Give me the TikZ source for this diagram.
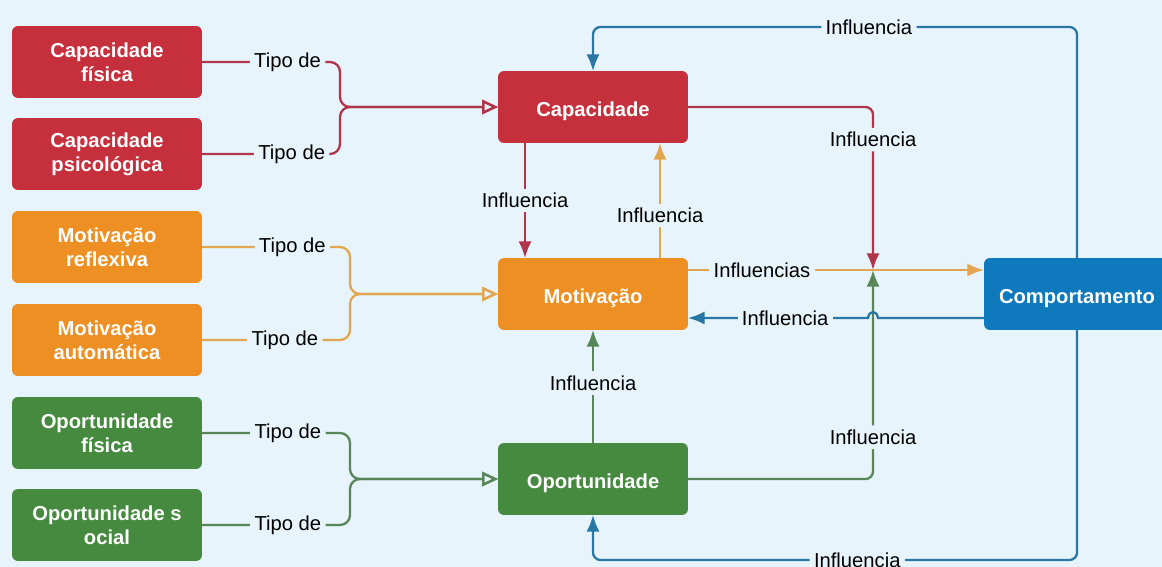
\documentclass[tikz,border=0pt]{standalone}
\usepackage{fontspec}
\setmainfont{Liberation Sans}
\usepackage{xcolor}
\usetikzlibrary{arrows,arrows.meta,positioning,calc}

\definecolor{bgblue}{RGB}{231,244,251}
\definecolor{capred}{RGB}{198,47,60}
\definecolor{motorange}{RGB}{238,143,36}
\definecolor{opgreen}{RGB}{70,138,64}
\definecolor{compblue}{RGB}{14,121,188}
\definecolor{redline}{RGB}{176,52,74}
\definecolor{orangeline}{RGB}{226,166,80}
\definecolor{greenline}{RGB}{88,134,88}
\definecolor{blueline}{RGB}{40,120,166}

\begin{document}
\begin{tikzpicture}[x=0.02cm,y=-0.02cm,every node/.style={outer sep=0pt}]
\tikzstyle{box}=[rounded corners=0.12cm,minimum width=3.8cm,minimum height=1.44cm,
text=white,align=center,inner sep=2pt,font=\fontsize{11.5}{13.5}\selectfont\bfseries]
\tikzstyle{mainbox}=[box,text height=10.6pt,text depth=0pt]
\tikzstyle{lbl}=[fill=bgblue,inner sep=2.5pt,text=black,font=\fontsize{11.5}{13}\selectfont]
\tikzstyle{tipo}=[line width=1.3pt,rounded corners=0.2cm,-{Triangle[open,length=9pt,width=8pt]}]
\tikzstyle{infl}=[line width=1.3pt,-{Latex[length=9.5pt,width=7.5pt]}]
\fill[bgblue] (0,0) rectangle (1162,567);
\useasboundingbox (0,0) rectangle (1162,567);

% sources
\node (capfis) [box,fill=capred] at (107,62) {Capacidade\\física};
\node (cappsi) [box,fill=capred] at (107,154) {Capacidade\\psicológica};
\node (motref) [box,fill=motorange] at (107,247) {Motivação\\reflexiva};
\node (motaut) [box,fill=motorange] at (107,340) {Motivação\\automática};
\node (opfis) [box,fill=opgreen] at (107,433) {Oportunidade\\física};
\node (opsoc) [box,fill=opgreen] at (107,525) {Oportunidade s\\ocial};

% main components
\node (cap) [mainbox,fill=capred] at (593,107) {Capacidade};
\node (mot) [mainbox,fill=motorange] at (593,294) {Motivação};
\node (opo) [mainbox,fill=opgreen] at (593,479) {Oportunidade};
\node (comp) [mainbox,fill=compblue,minimum width=3.72cm] at (1077,294) {Comportamento};

\coordinate (capj) at (340,107);
\coordinate (motj) at (350,294);
\coordinate (opoj) at (350,479);
\coordinate (cross) at (873,270);
\coordinate (hop) at (873,318);
\coordinate (top) at (593,27);
\coordinate (bot) at (593,560);

% tipo de
\draw [tipo,redline] (capfis.east) -- node[lbl,pos=.62]{Tipo de} (capfis.east -| capj) -- (capj) -- (cap.west);
\draw [tipo,redline] (cappsi.east) -- node[lbl,pos=.65]{Tipo de} (cappsi.east -| capj) -- (capj) -- (cap.west);
\draw [tipo,orangeline] (motref.east) -- node[lbl,pos=.61]{Tipo de} (motref.east -| motj) -- (motj) -- (mot.west);
\draw [tipo,orangeline] (motaut.east) -- node[lbl,pos=.56]{Tipo de} (motaut.east -| motj) -- (motj) -- (mot.west);
\draw [tipo,greenline] (opfis.east) -- node[lbl,pos=.58]{Tipo de} (opfis.east -| opoj) -- (opoj) -- (opo.west);
\draw [tipo,greenline] (opsoc.east) -- node[lbl,pos=.58]{Tipo de} (opsoc.east -| opoj) -- (opoj) -- (opo.west);

% influences
\draw [infl,redline] ($(cap.south)+(-68,0)$) -- node[lbl]{Influencia} ($(mot.north)+(-68,0)$);
\draw [infl,orangeline] ($(mot.north)+(67,0)$) -- node[lbl,pos=.37]{Influencia} ($(cap.south)+(67,0)$);
\draw [infl,greenline] (opo.north) -- node[lbl,pos=.53]{Influencia} (mot.south);
\draw [infl,orangeline] (mot.east |- cross) -- node[lbl,pos=.25]{Influencias} (comp.west |- cross);
\draw [infl,redline,rounded corners=0.15cm] (cap.east) -| node[lbl,pos=.6]{Influencia} (cross);
\draw [infl,greenline,rounded corners=0.15cm] (opo.east) -| node[lbl,pos=.6]{Influencia} (cross);
\draw [infl,blueline] (comp.west |- hop) -- ($(hop)+(5,0)$) .. controls ($(hop)+(4,-8)$) and ($(hop)+(-4,-8)$) .. ($(hop)+(-5,0)$) -- node[lbl,pos=.46]{Influencia} (mot.east |- hop);
\draw [infl,blueline,rounded corners=0.15cm] (comp.north) |- node[lbl,pos=.715]{Influencia} (top) -- (cap.north);
\draw [infl,blueline,rounded corners=0.15cm] (comp.south) |- node[lbl,pos=.727]{Influencia} (bot) -- (opo.south);
\end{tikzpicture}
\end{document}
